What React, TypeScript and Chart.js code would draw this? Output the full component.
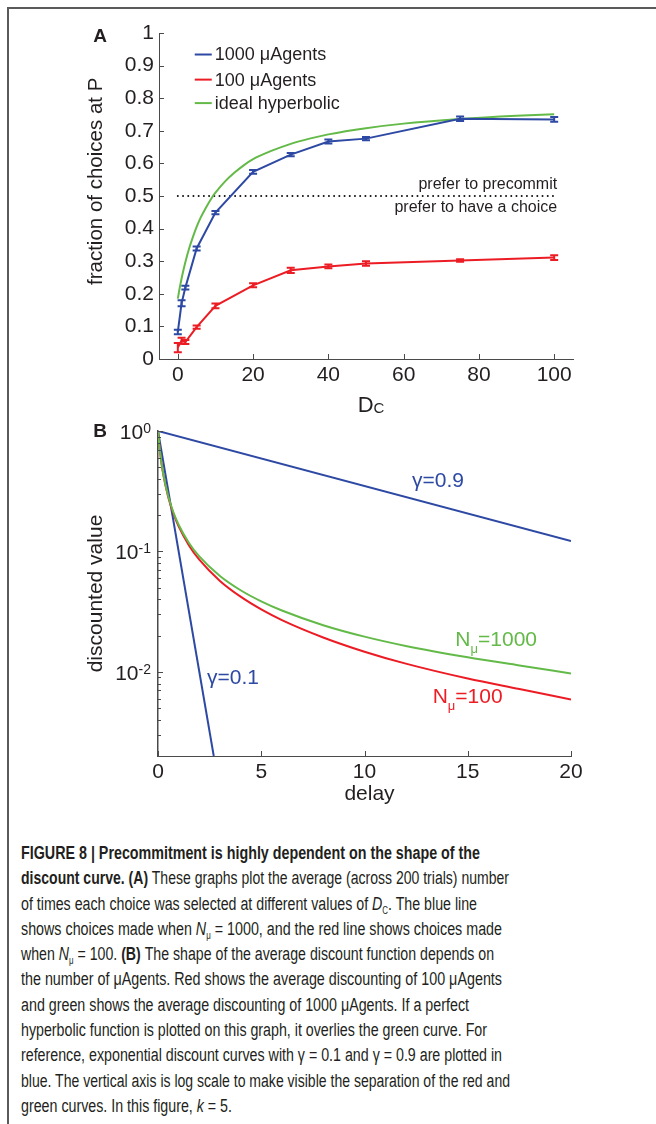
import React, { useEffect, useLayoutEffect, useRef } from "react";
import { Chart, registerables } from "chart.js";

Chart.register(...registerables);

// ---------- Panel A data ----------
const DC_VALUES = [0, 1, 2, 5, 10, 20, 30, 40, 50, 75, 100];
const FRACTION_1000 = [0.083, 0.171, 0.219, 0.339, 0.449, 0.574, 0.627, 0.667, 0.676, 0.737, 0.735];
const ERROR_1000 = [0.007, 0.009, 0.006, 0.006, 0.005, 0.006, 0.005, 0.006, 0.005, 0.007, 0.007];
const FRACTION_100 = [0.035, 0.056, 0.052, 0.098, 0.163, 0.226, 0.272, 0.284, 0.293, 0.302, 0.311];
const ERROR_100 = [0.014, 0.009, 0.006, 0.005, 0.007, 0.006, 0.008, 0.006, 0.007, 0.004, 0.007];
const HYPERBOLIC_DC = [0, 0.5, 1, 1.5, 2, 3, 4, 5, 6, 7.5, 9, 10, 12.5, 15, 17.5, 20, 25, 30, 35, 40, 50, 60, 75, 90, 100];
const HYPERBOLIC_FRACTION = [0.185, 0.218, 0.247, 0.273, 0.297, 0.339, 0.374, 0.405, 0.432, 0.465, 0.494, 0.51, 0.544, 0.571, 0.594, 0.613, 0.639, 0.66, 0.676, 0.689, 0.708, 0.722, 0.736, 0.746, 0.751];
const THRESHOLD_DC = [0, 100];
const THRESHOLD_FRACTION = 0.5;
const A_X_TICKS = [0, 20, 40, 60, 80, 100];
const A_Y_TICKS = [0, 0.1, 0.2, 0.3, 0.4, 0.5, 0.6, 0.7, 0.8, 0.9, 1];
const A_Y_LABELS = ["0", "0.1", "0.2", "0.3", "0.4", "0.5", "0.6", "0.7", "0.8", "0.9", "1"];
const A_LEGEND = ["1000 \u03bcAgents", "100 \u03bcAgents", "ideal hyperbolic"];

// ---------- Panel B data ----------
const DELAY = [0, 0.1, 0.25, 0.5, 0.75, 1, 1.5, 2, 3, 4, 5, 6, 8, 10, 12, 15, 17.5, 20];
const VALUE_N1000 = [1, 0.667, 0.444, 0.286, 0.2105, 0.1667, 0.1176, 0.0909, 0.0625, 0.0476, 0.0385, 0.0323, 0.0244, 0.0196, 0.0164, 0.0132, 0.0113, 0.0097];
const VALUE_N100 = [1, 0.665, 0.44, 0.281, 0.2054, 0.1613, 0.1121, 0.0853, 0.0569, 0.0421, 0.033, 0.0269, 0.0193, 0.0147, 0.0117, 0.0088, 0.0072, 0.0059];
const GAMMA09_DELAY = [0, 20];
const GAMMA09_VALUE = [1, 0.122];
const GAMMA01_DELAY = [0, 2.7];
const GAMMA01_VALUE = [1, 0.002];
const B_X_TICKS = [0, 5, 10, 15, 20];
const B_Y_MAJOR = [0.01, 0.1, 1];
const B_Y_EXPONENTS = ["-2", "-1", "0"];
const B_Y_MINOR = [0.002, 0.003, 0.004, 0.005, 0.006, 0.007, 0.008, 0.009, 0.02, 0.03, 0.04, 0.05, 0.06, 0.07, 0.08, 0.09, 0.2, 0.3, 0.4, 0.5, 0.6, 0.7, 0.8, 0.9];

// ---------- styles ----------
const BLUE = "#2d49a3";
const RED = "#ec1c24";
const GREEN = "#63ba48";
const INK = "#231f20";
const AXIS = "#4a4a4a";
const FONT = "'Liberation Sans', Arial, Helvetica, sans-serif";

const pts = (xs: number[], ys: number[]) => xs.map((x, i) => ({ x, y: ys[i] }));

function inwardTicks(len: number, minorLen: number, isMajor?: (v: number) => boolean) {
  return {
    id: "inwardTicks",
    afterDraw(chart: any) {
      const { ctx, chartArea } = chart;
      const xs = chart.scales.x;
      const ys = chart.scales.y;
      ctx.save();
      ctx.strokeStyle = AXIS;
      ctx.lineWidth = 1;
      ctx.beginPath();
      for (const t of xs.ticks) {
        const px = Math.round(xs.getPixelForValue(t.value)) + 0.5;
        ctx.moveTo(px, chartArea.bottom);
        ctx.lineTo(px, chartArea.bottom - len);
      }
      for (const t of ys.ticks) {
        const py = Math.round(ys.getPixelForValue(t.value)) + 0.5;
        const l = !isMajor || isMajor(t.value) ? len : minorLen;
        ctx.moveTo(chartArea.left, py);
        ctx.lineTo(chartArea.left + l, py);
      }
      ctx.stroke();
      ctx.restore();
    },
  };
}

const errorBars = {
  id: "errorBars",
  afterDatasetsDraw(chart: any) {
    const { ctx } = chart;
    const xs = chart.scales.x;
    const ys = chart.scales.y;
    chart.data.datasets.forEach((ds: any) => {
      if (!ds.errorBars) return;
      ctx.save();
      ctx.strokeStyle = ds.borderColor;
      ctx.lineWidth = 2;
      ds.data.forEach((p: any, j: number) => {
        const e = ds.errorBars[j];
        const px = xs.getPixelForValue(p.x);
        const y1 = ys.getPixelForValue(p.y - e);
        const y2 = ys.getPixelForValue(p.y + e);
        ctx.beginPath();
        ctx.moveTo(px, y1);
        ctx.lineTo(px, y2);
        ctx.moveTo(px - 4, y1);
        ctx.lineTo(px + 4, y1);
        ctx.moveTo(px - 4, y2);
        ctx.lineTo(px + 4, y2);
        ctx.stroke();
      });
      ctx.restore();
    });
  },
};

const panelAText = {
  id: "panelAText",
  afterDraw(chart: any) {
    const { ctx, chartArea } = chart;
    const xs = chart.scales.x;
    const ys = chart.scales.y;
    ctx.save();
    ctx.fillStyle = INK;
    ctx.font = `bold 19px ${FONT}`;
    ctx.textAlign = "center";
    ctx.textBaseline = "middle";
    ctx.fillText("A", 100, 37);
    // legend
    const colors = [BLUE, RED, GREEN];
    const rowY = [0.934, 0.857, 0.785];
    ctx.font = `18px ${FONT}`;
    ctx.textAlign = "left";
    A_LEGEND.forEach((label, i) => {
      const y = ys.getPixelForValue(rowY[i]);
      const x0 = xs.getPixelForValue(4.5);
      ctx.strokeStyle = colors[i];
      ctx.lineWidth = 2;
      ctx.beginPath();
      ctx.moveTo(x0, y);
      ctx.lineTo(x0 + 17, y);
      ctx.stroke();
      ctx.fillStyle = INK;
      ctx.fillText(label, x0 + 20, y + 1);
    });
    // threshold annotations
    const rx = xs.getPixelForValue(100) + 3;
    const ty = ys.getPixelForValue(THRESHOLD_FRACTION);
    ctx.font = `16px ${FONT}`;
    ctx.textAlign = "right";
    ctx.fillText("prefer to precommit", rx, ty - 11);
    ctx.fillText("prefer to have a choice", rx, ty + 12);
    // x title D_C
    const cx = (chartArea.left + chartArea.right) / 2 + 5;
    ctx.textBaseline = "alphabetic";
    ctx.font = `22px ${FONT}`;
    const wD = ctx.measureText("D").width;
    ctx.font = `15px ${FONT}`;
    const wC = ctx.measureText("C").width;
    const start = cx - (wD + wC) / 2;
    ctx.textAlign = "left";
    ctx.font = `22px ${FONT}`;
    ctx.fillText("D", start, 412);
    ctx.font = `15px ${FONT}`;
    ctx.fillText("C", start + wD, 413);
    // y title
    ctx.save();
    ctx.translate(96, ys.getPixelForValue(0.545));
    ctx.rotate(-Math.PI / 2);
    ctx.font = `20.5px ${FONT}`;
    ctx.textAlign = "center";
    ctx.textBaseline = "middle";
    ctx.fillText("fraction of choices at P", 0, 0);
    ctx.restore();
    ctx.restore();
  },
};

const panelBText = {
  id: "panelBText",
  afterDraw(chart: any) {
    const { ctx, chartArea } = chart;
    const xs = chart.scales.x;
    const ys = chart.scales.y;
    ctx.save();
    ctx.fillStyle = INK;
    ctx.font = `bold 19px ${FONT}`;
    ctx.textAlign = "center";
    ctx.textBaseline = "middle";
    ctx.fillText("B", 100, 32);
    B_Y_MAJOR.forEach((v, i) => {
      const py = ys.getPixelForValue(v);
      const right = chartArea.left - 7;
      ctx.font = `14px ${FONT}`;
      ctx.textAlign = "right";
      ctx.textBaseline = "alphabetic";
      const exp = B_Y_EXPONENTS[i];
      const we = ctx.measureText(exp).width;
      ctx.fillText(exp, right, py + 2);
      ctx.font = `21px ${FONT}`;
      ctx.textBaseline = "middle";
      ctx.fillText("10", right - we, py + 2);
    });
    ctx.font = `21px ${FONT}`;
    ctx.textAlign = "center";
    ctx.textBaseline = "middle";
    ctx.fillText("delay", (chartArea.left + chartArea.right) / 2 + 5, 394);
    ctx.save();
    ctx.translate(96, (chartArea.top + chartArea.bottom) / 2);
    ctx.rotate(-Math.PI / 2);
    ctx.fillText("discounted value", 0, 0);
    ctx.restore();
    const label = (main: string, sub: string, rest: string, x: number, y: number, color: string) => {
      let px = xs.getPixelForValue(x);
      const py = ys.getPixelForValue(y);
      ctx.fillStyle = color;
      ctx.textAlign = "left";
      ctx.textBaseline = "middle";
      ctx.font = `21px ${FONT}`;
      ctx.fillText(main, px, py);
      px += ctx.measureText(main).width;
      if (sub) {
        ctx.font = `13px ${FONT}`;
        ctx.fillText(sub, px, py + 9);
        px += ctx.measureText(sub).width;
      }
      ctx.font = `21px ${FONT}`;
      ctx.fillText(rest, px, py);
    };
    label("\u03b3=0.9", "", "", 12.3, 0.38, BLUE);
    label("\u03b3=0.1", "", "", 2.37, 0.0089, BLUE);
    label("N", "\u03bc", "=1000", 14.4, 0.0184, GREEN);
    label("N", "\u03bc", "=100", 13.3, 0.0061, RED);
    ctx.restore();
  },
};

const tickFont = { family: FONT, size: 21 };

function PanelA() {
  const ref = useRef<HTMLCanvasElement>(null);
  useEffect(() => {
    const chart = new Chart(ref.current as HTMLCanvasElement, {
      type: "line",
      data: {
        datasets: [
          { label: A_LEGEND[0], data: pts(DC_VALUES, FRACTION_1000), borderColor: BLUE, borderWidth: 2, pointRadius: 0, errorBars: ERROR_1000 } as any,
          { label: A_LEGEND[1], data: pts(DC_VALUES, FRACTION_100), borderColor: RED, borderWidth: 2, pointRadius: 0, errorBars: ERROR_100 } as any,
          { label: A_LEGEND[2], data: pts(HYPERBOLIC_DC, HYPERBOLIC_FRACTION), borderColor: GREEN, borderWidth: 2, pointRadius: 0, cubicInterpolationMode: "monotone" },
          { label: "threshold", data: THRESHOLD_DC.map((x) => ({ x, y: THRESHOLD_FRACTION })), borderColor: "#111", borderWidth: 2, borderDash: [0.01, 5.2], borderCapStyle: "round", pointRadius: 0 },
        ],
      },
      options: {
        animation: false,
        responsive: false,
        devicePixelRatio: 1,
        layout: { padding: { top: 33, right: 83, left: 0, bottom: 0 } },
        plugins: { legend: { display: false }, tooltip: { enabled: false } },
        scales: {
          x: {
            type: "linear",
            min: -5,
            max: 105,
            afterBuildTicks: (s: any) => { s.ticks = A_X_TICKS.map((value) => ({ value })); },
            afterFit: (s: any) => { s.height = 66; },
            grid: { display: false, drawTicks: false },
            border: { display: true, color: AXIS, width: 1 },
            ticks: { font: tickFont, color: INK, padding: 4, maxRotation: 0, autoSkip: false },
          },
          y: {
            type: "linear",
            min: 0,
            max: 1,
            afterBuildTicks: (s: any) => { s.ticks = A_Y_TICKS.map((value) => ({ value })); },
            afterFit: (s: any) => { s.width = 159; },
            grid: { display: false, drawTicks: false },
            border: { display: true, color: AXIS, width: 1 },
            ticks: { font: tickFont, color: INK, padding: 5, autoSkip: false, callback: (_v: any, i: number) => A_Y_LABELS[i] },
          },
        },
      } as any,
      plugins: [errorBars, inwardTicks(5, 5), panelAText],
    });
    return () => chart.destroy();
  }, []);
  return <canvas ref={ref} width={656} height={425} style={{ position: "absolute", left: 0, top: 0, width: 656, height: 425 }} />;
}

function PanelB() {
  const ref = useRef<HTMLCanvasElement>(null);
  useEffect(() => {
    const chart = new Chart(ref.current as HTMLCanvasElement, {
      type: "line",
      data: {
        datasets: [
          { label: "N\u03bc=1000", data: pts(DELAY, VALUE_N1000), borderColor: GREEN, borderWidth: 2, pointRadius: 0, cubicInterpolationMode: "monotone" },
          { label: "N\u03bc=100", data: pts(DELAY, VALUE_N100), borderColor: RED, borderWidth: 2, pointRadius: 0, cubicInterpolationMode: "monotone" },
          { label: "\u03b3=0.9", data: pts(GAMMA09_DELAY, GAMMA09_VALUE), borderColor: BLUE, borderWidth: 2, pointRadius: 0 },
          { label: "\u03b3=0.1", data: pts(GAMMA01_DELAY, GAMMA01_VALUE), borderColor: BLUE, borderWidth: 2, pointRadius: 0 },
        ],
      },
      options: {
        animation: false,
        responsive: false,
        devicePixelRatio: 1,
        layout: { padding: { top: 31, right: 85, left: 0, bottom: 0 } },
        plugins: { legend: { display: false }, tooltip: { enabled: false } },
        scales: {
          x: {
            type: "linear",
            min: 0,
            max: 20,
            afterBuildTicks: (s: any) => { s.ticks = B_X_TICKS.map((value) => ({ value })); },
            afterFit: (s: any) => { s.height = 64; },
            grid: { display: false, drawTicks: false },
            border: { display: true, color: AXIS, width: 1 },
            ticks: { font: tickFont, color: INK, padding: 4, maxRotation: 0, autoSkip: false },
          },
          y: {
            type: "logarithmic",
            min: 0.002,
            max: 1,
            afterBuildTicks: (s: any) => {
              s.ticks = [...B_Y_MINOR, ...B_Y_MAJOR].sort((a, b) => a - b).map((value) => ({ value }));
            },
            afterFit: (s: any) => { s.width = 158; },
            grid: { display: false, drawTicks: false },
            border: { display: true, color: AXIS, width: 1.5 },
            ticks: { font: tickFont, color: INK, padding: 5, autoSkip: false, callback: () => "" },
          },
        },
      } as any,
      plugins: [inwardTicks(5, 3, (v) => B_Y_MAJOR.some((m) => Math.abs(m - v) < 1e-9)), panelBText],
    });
    return () => chart.destroy();
  }, []);
  return <canvas ref={ref} width={656} height={420} style={{ position: "absolute", left: 0, top: 400, width: 656, height: 420 }} />;
}

const Sub = ({ children }: { children: React.ReactNode }) => (
  <sub style={{ fontSize: "10px", verticalAlign: "-4px", lineHeight: 0 }}>{children}</sub>
);

// rendered width of each caption line in the reference layout
const CAPTION_WIDTHS = [459, 488, 456, 481, 473, 481, 448, 466, 481, 489, 211];

function Caption() {
  const refs = useRef<(HTMLSpanElement | null)[]>([]);
  useLayoutEffect(() => {
    refs.current.forEach((el, i) => {
      if (!el) return;
      el.style.transform = "none";
      const w = el.getBoundingClientRect().width;
      const s = w > 0 ? CAPTION_WIDTHS[i] / w : 0.76;
      el.style.transform = `scaleX(${s})`;
    });
  }, []);
  const lines: React.ReactNode[] = [
    <b>FIGURE 8 | Precommitment is highly dependent on the shape of the</b>,
    <><b>discount curve.</b> <b>(A)</b> These graphs plot the average (across 200 trials) number</>,
    <>of times each choice was selected at different values of <i>D</i><Sub>C</Sub>. The blue line</>,
    <>shows choices made when <i>N</i><Sub>{"\u03bc"}</Sub> = 1000, and the red line shows choices made</>,
    <>when <i>N</i><Sub>{"\u03bc"}</Sub> = 100. <b>(B)</b> The shape of the average discount function depends on</>,
    <>the number of {"\u03bc"}Agents. Red shows the average discounting of 100 {"\u03bc"}Agents</>,
    <>and green shows the average discounting of 1000 {"\u03bc"}Agents. If a perfect</>,
    <>hyperbolic function is plotted on this graph, it overlies the green curve. For</>,
    <>reference, exponential discount curves with {"\u03b3"} = 0.1 and {"\u03b3"} = 0.9 are plotted in</>,
    <>blue. The vertical axis is log scale to make visible the separation of the red and</>,
    <>green curves. In this figure, <i>k</i> = 5.</>,
  ];
  return (
    <div style={{ position: "absolute", left: 21, top: 841, fontFamily: FONT, fontSize: 18, color: INK, lineHeight: "25.3px" }}>
      {lines.map((l, i) => (
        <div key={i} style={{ whiteSpace: "nowrap", height: 25.3 }}>
          <span
            ref={(el) => { refs.current[i] = el; }}
            style={{ display: "inline-block", transformOrigin: "left center", transform: "scaleX(0.74)" }}
          >
            {l}
          </span>
        </div>
      ))}
    </div>
  );
}

export default function App() {
  return (
    <div style={{ position: "absolute", left: 0, top: 0, width: 656, height: 1124, background: "#fff", overflow: "hidden" }}>
      <div style={{ position: "absolute", left: 7, top: 7, width: 649, height: 1117, borderLeft: "2px solid #5a5a5a", borderTop: "2px solid #5a5a5a" }} />
      <PanelB />
      <PanelA />
      <Caption />
    </div>
  );
}
